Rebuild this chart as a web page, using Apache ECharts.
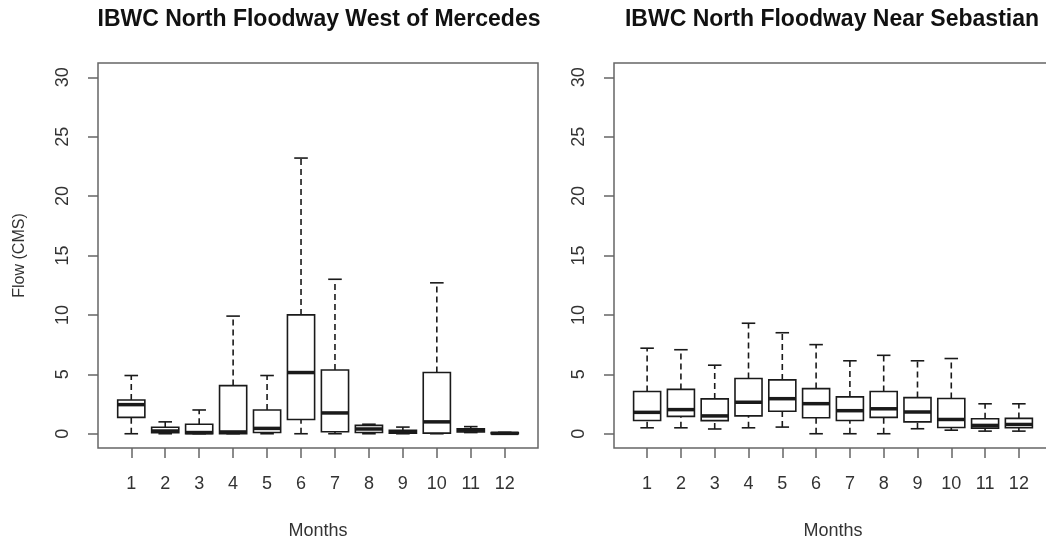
<!DOCTYPE html>
<html>
<head>
<meta charset="utf-8">
<script src="https://cdn.jsdelivr.net/npm/echarts@6/dist/echarts.min.js"></script>
<style>
  html, body { margin: 0; padding: 0; background: #fff; }
  #chart { width: 1046px; height: 543px; }
</style>
</head>
<body>
<div id="chart"></div>
<script>
// months on the x axis
const months = ['1', '2', '3', '4', '5', '6', '7', '8', '9', '10', '11', '12'];
const yTicks = [0, 5, 10, 15, 20, 25, 30];

// [lower whisker, Q1, median, Q3, upper whisker] per month
const mercedes = [
    [0, 1.38, 2.45, 2.84, 4.9],
    [0, 0.08, 0.23, 0.55, 1.0],
    [0, 0, 0.1, 0.8, 2.0],
    [0, 0, 0.15, 4.05, 9.9],
    [0, 0.1, 0.45, 2.0, 4.9],
    [0, 1.2, 5.15, 10.0, 23.2],
    [0, 0.17, 1.75, 5.37, 13.0],
    [0, 0.1, 0.4, 0.7, 0.8],
    [0, 0.05, 0.15, 0.3, 0.56],
    [0, 0.05, 1.0, 5.15, 12.7],
    [0.1, 0.15, 0.3, 0.42, 0.6],
    [0, 0, 0.03, 0.1, 0.12]
];

const sebastian = [
    [0.5, 1.12, 1.8, 3.55, 7.2],
    [0.5, 1.46, 2.03, 3.73, 7.07],
    [0.4, 1.1, 1.5, 2.93, 5.77],
    [0.5, 1.5, 2.65, 4.65, 9.3],
    [0.56, 1.89, 2.95, 4.53, 8.5],
    [0, 1.35, 2.53, 3.8, 7.5],
    [0, 1.12, 1.94, 3.1, 6.14],
    [0, 1.38, 2.1, 3.55, 6.6],
    [0.42, 1.0, 1.83, 3.04, 6.14],
    [0.3, 0.53, 1.2, 2.97, 6.33],
    [0.22, 0.47, 0.7, 1.26, 2.52],
    [0.22, 0.5, 0.78, 1.29, 2.52]
];

const ink = '#1a1a1a';
const frame = '#666';
const labelColor = '#333';
const font = 'Liberation Sans, Arial, sans-serif';

// R style box: dashed whiskers, short staples, thick median
function renderBox(params, api) {
    const x = api.value(0);
    const lo = api.coord([x, api.value(1)]);
    const q1 = api.coord([x, api.value(2)]);
    const md = api.coord([x, api.value(3)]);
    const q3 = api.coord([x, api.value(4)]);
    const hi = api.coord([x, api.value(5)]);
    const w = api.size([0.8, 0])[0];
    const cx = lo[0];
    const half = w / 2;
    const st = w / 4;
    const line = { stroke: ink, lineWidth: 1.6, fill: null };
    const dash = { stroke: ink, lineWidth: 1.6, lineDash: [6, 4], fill: null };
    return {
        type: 'group',
        children: [
            { type: 'line', shape: { x1: cx, y1: q3[1], x2: cx, y2: hi[1] }, style: dash },
            { type: 'line', shape: { x1: cx, y1: lo[1], x2: cx, y2: q1[1] }, style: dash },
            { type: 'line', shape: { x1: cx - st, y1: hi[1], x2: cx + st, y2: hi[1] }, style: line },
            { type: 'line', shape: { x1: cx - st, y1: lo[1], x2: cx + st, y2: lo[1] }, style: line },
            { type: 'rect', shape: { x: cx - half, y: q3[1], width: w, height: q1[1] - q3[1] }, style: line },
            { type: 'line', shape: { x1: cx - half, y1: md[1], x2: cx + half, y2: md[1] },
              style: { stroke: ink, lineWidth: 3.5 } }
        ]
    };
}

function toRows(boxes) {
    return boxes.map((b, i) => [i + 1].concat(b));
}

const tickPos = months.map((m, i) => i + 1);

function xAxisFor(idx) {
    return {
        gridIndex: idx, type: 'value', min: 0.02, max: 12.98,
        name: 'Months', nameLocation: 'middle', nameGap: 74,
        nameTextStyle: { color: labelColor, fontSize: 18, fontFamily: font },
        axisLine: { show: false, onZero: false },
        axisTick: { show: true, inside: false, length: 10, customValues: tickPos, lineStyle: { color: frame, width: 1.5 } },
        axisLabel: {
            customValues: tickPos, margin: 27, color: labelColor, fontSize: 18, fontFamily: font,
            formatter: v => months[Math.round(v) - 1]
        },
        splitLine: { show: false }
    };
}

function yAxisFor(idx, withName) {
    return {
        gridIndex: idx, type: 'value', min: -1.2, max: 31.2,
        name: withName ? 'Flow (CMS)' : '', nameLocation: 'middle', nameGap: 70,
        nameTextStyle: { color: labelColor, fontSize: 16, fontFamily: font },
        axisLine: { show: false, onZero: false },
        axisTick: { show: true, inside: false, length: 10, customValues: yTicks, lineStyle: { color: frame, width: 1.5 } },
        axisLabel: {
            customValues: yTicks, rotate: 90, margin: 26, color: labelColor, fontSize: 18, fontFamily: font
        },
        splitLine: { show: false }
    };
}

const titleStyle = { color: '#111', fontSize: 23, fontWeight: 'bold', fontFamily: font };

const option = {
    backgroundColor: '#fff',
    animation: false,
    title: [
        { text: 'IBWC North Floodway West of Mercedes', left: 319, top: 8, textAlign: 'center', padding: 0, textStyle: titleStyle },
        { text: 'IBWC North Floodway Near Sebastian', left: 832, top: 8, textAlign: 'center', padding: 0, textStyle: titleStyle }
    ],
    grid: [
        { left: 98, top: 63, width: 440, height: 385, outerBoundsMode: 'none', containLabel: false,
          show: true, borderColor: frame, borderWidth: 1.5, backgroundColor: 'transparent' },
        { left: 614, top: 63, width: 438, height: 385, outerBoundsMode: 'none', containLabel: false,
          show: true, borderColor: frame, borderWidth: 1.5, backgroundColor: 'transparent' }
    ],
    xAxis: [xAxisFor(0), xAxisFor(1)],
    yAxis: [yAxisFor(0, true), yAxisFor(1, false)],
    series: [
        { type: 'custom', name: 'West of Mercedes', xAxisIndex: 0, yAxisIndex: 0, clip: false, renderItem: renderBox, data: toRows(mercedes) },
        { type: 'custom', name: 'Near Sebastian', xAxisIndex: 1, yAxisIndex: 1, clip: false, renderItem: renderBox, data: toRows(sebastian) }
    ]
};

const chart = echarts.init(document.getElementById('chart'));
chart.setOption(option);
</script>
</body>
</html>
